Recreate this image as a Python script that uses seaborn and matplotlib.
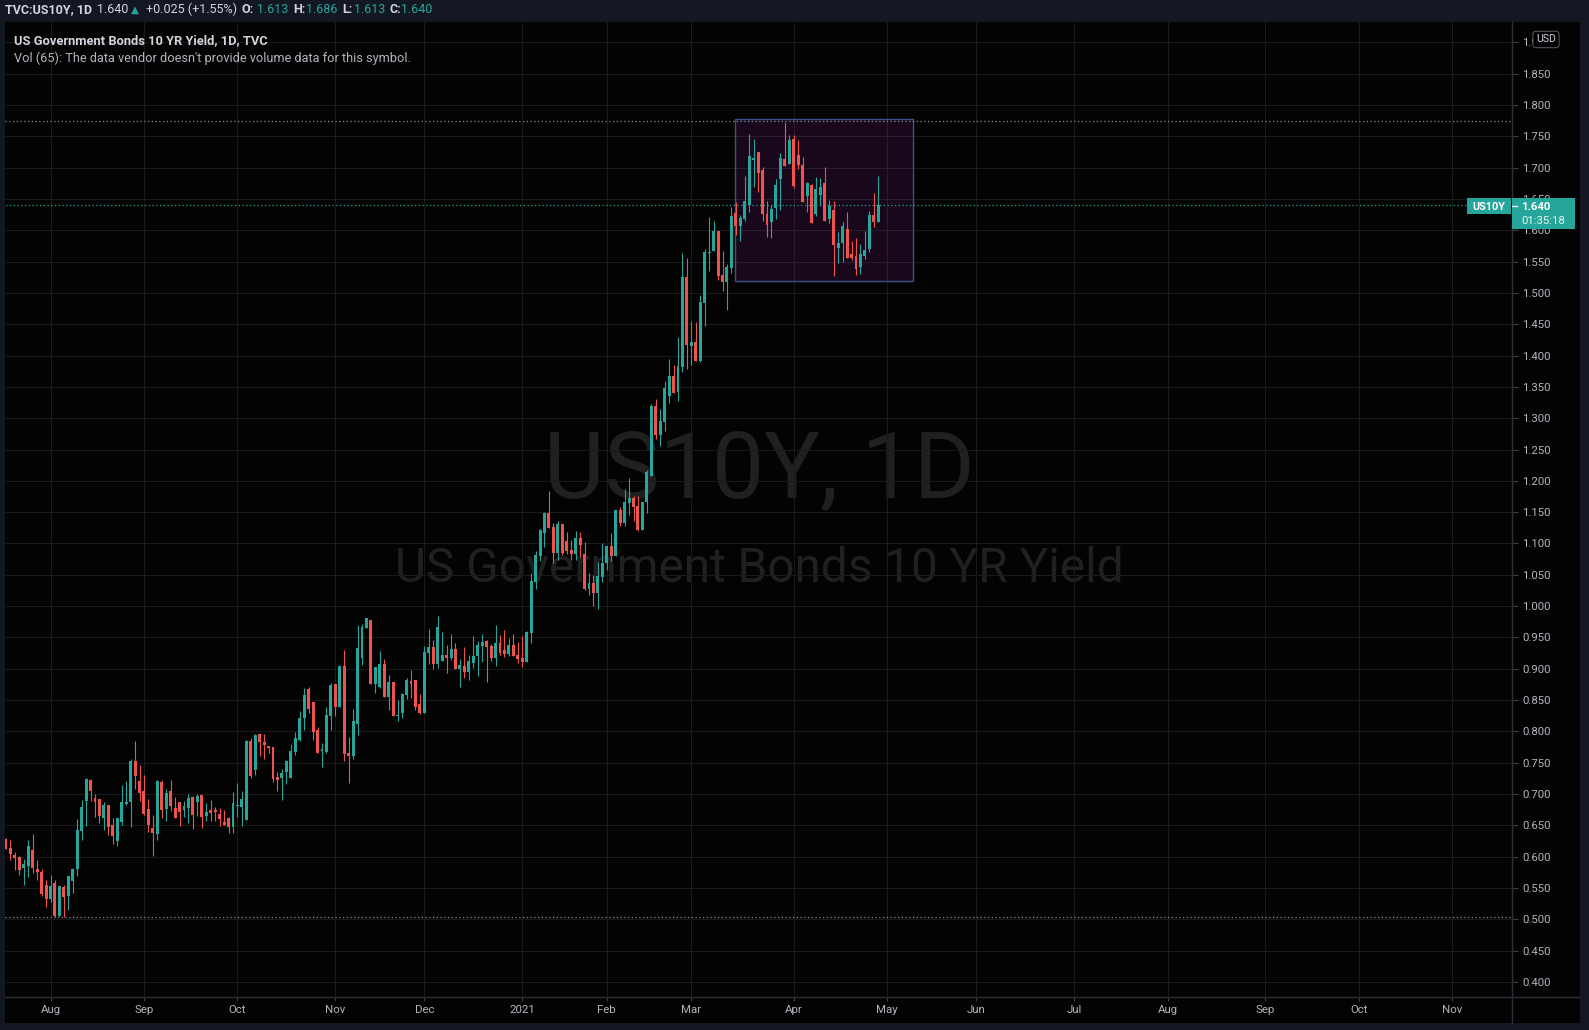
import numpy as np
import pandas as pd
import matplotlib
matplotlib.use("Agg")
import matplotlib.pyplot as plt
import seaborn as sns
from matplotlib.patches import Rectangle
from matplotlib.lines import Line2D

# Daily candles TVC:US10Y, 20 Jul 2020 -> 29 Apr 2021
opens = [
    0.628, 0.614, 0.603, 0.600, 0.582, 0.585, 0.611, 0.580, 0.576, 0.555,
    0.532, 0.558, 0.505, 0.552, 0.537, 0.561, 0.580, 0.641, 0.689, 0.722,
    0.694, 0.692, 0.662, 0.683, 0.651, 0.625, 0.655, 0.684, 0.687, 0.753,
    0.721, 0.705, 0.676, 0.646, 0.636, 0.719, 0.676, 0.705, 0.678, 0.687,
    0.674, 0.678, 0.695, 0.687, 0.698, 0.665, 0.675, 0.675, 0.668, 0.655,
    0.662, 0.647, 0.681, 0.679, 0.659, 0.785, 0.738, 0.796, 0.783, 0.777,
    0.775, 0.727, 0.726, 0.735, 0.726, 0.767, 0.786, 0.821, 0.868, 0.847,
    0.802, 0.769, 0.767, 0.825, 0.876, 0.839, 0.904, 0.765, 0.761, 0.812,
    0.917, 0.965, 0.978, 0.876, 0.871, 0.908, 0.855, 0.879, 0.825, 0.829,
    0.858, 0.880, 0.882, 0.844, 0.829, 0.925, 0.935, 0.908, 0.912, 0.922,
    0.917, 0.931, 0.900, 0.904, 0.895, 0.909, 0.920, 0.936, 0.944, 0.936,
    0.917, 0.941, 0.930, 0.923, 0.938, 0.922, 0.917, 0.911, 0.957, 1.038,
    1.080, 1.117, 1.149, 1.126, 1.085, 1.131, 1.104, 1.090, 1.083, 1.109,
    1.083, 1.027, 1.037, 1.021, 1.046, 1.069, 1.096, 1.080, 1.153, 1.133,
    1.165, 1.172, 1.160, 1.122, 1.166, 1.207, 1.320, 1.273, 1.294, 1.336,
    1.367, 1.342, 1.382, 1.525, 1.415, 1.422, 1.391, 1.484, 1.564, 1.567,
    1.599, 1.529, 1.517, 1.540, 1.628, 1.607, 1.618, 1.640, 1.712, 1.725,
    1.696, 1.626, 1.613, 1.636, 1.682, 1.714, 1.706, 1.746, 1.720, 1.704,
    1.655, 1.672, 1.626, 1.656, 1.675, 1.618, 1.632, 1.572, 1.580, 1.602,
    1.562, 1.559, 1.541, 1.559, 1.570, 1.624, 1.613,
]
highs = [
    0.630, 0.627, 0.607, 0.601, 0.596, 0.626, 0.636, 0.595, 0.580, 0.563,
    0.571, 0.563, 0.553, 0.555, 0.569, 0.582, 0.660, 0.690, 0.726, 0.724,
    0.700, 0.692, 0.687, 0.683, 0.662, 0.662, 0.714, 0.721, 0.756, 0.785,
    0.746, 0.730, 0.692, 0.667, 0.722, 0.722, 0.708, 0.722, 0.695, 0.687,
    0.689, 0.700, 0.697, 0.700, 0.698, 0.686, 0.691, 0.679, 0.678, 0.675,
    0.663, 0.703, 0.718, 0.705, 0.786, 0.790, 0.796, 0.796, 0.796, 0.777,
    0.775, 0.735, 0.740, 0.754, 0.780, 0.799, 0.832, 0.869, 0.871, 0.847,
    0.807, 0.781, 0.839, 0.877, 0.876, 0.904, 0.930, 0.791, 0.836, 0.970,
    0.971, 0.981, 0.978, 0.903, 0.928, 0.916, 0.890, 0.879, 0.850, 0.861,
    0.885, 0.898, 0.882, 0.860, 0.936, 0.963, 0.946, 0.984, 0.959, 0.938,
    0.955, 0.941, 0.916, 0.935, 0.922, 0.952, 0.944, 0.955, 0.946, 0.939,
    0.970, 0.954, 0.962, 0.949, 0.955, 0.943, 0.952, 0.960, 1.053, 1.088,
    1.123, 1.150, 1.184, 1.133, 1.136, 1.131, 1.118, 1.106, 1.120, 1.118,
    1.102, 1.053, 1.050, 1.070, 1.101, 1.096, 1.117, 1.153, 1.158, 1.187,
    1.205, 1.176, 1.176, 1.167, 1.217, 1.323, 1.330, 1.315, 1.359, 1.394,
    1.385, 1.430, 1.563, 1.556, 1.455, 1.454, 1.497, 1.570, 1.621, 1.615,
    1.599, 1.567, 1.546, 1.637, 1.645, 1.624, 1.687, 1.754, 1.746, 1.725,
    1.701, 1.647, 1.640, 1.682, 1.723, 1.773, 1.752, 1.752, 1.744, 1.717,
    1.677, 1.674, 1.685, 1.683, 1.701, 1.648, 1.647, 1.597, 1.613, 1.629,
    1.583, 1.588, 1.578, 1.599, 1.631, 1.659, 1.686,
]
lows = [
    0.612, 0.594, 0.579, 0.571, 0.555, 0.568, 0.574, 0.563, 0.537, 0.520,
    0.528, 0.503, 0.505, 0.503, 0.515, 0.542, 0.569, 0.626, 0.649, 0.689,
    0.663, 0.654, 0.643, 0.635, 0.620, 0.617, 0.651, 0.683, 0.647, 0.708,
    0.689, 0.667, 0.639, 0.601, 0.626, 0.662, 0.657, 0.673, 0.662, 0.649,
    0.663, 0.654, 0.644, 0.665, 0.646, 0.657, 0.657, 0.657, 0.649, 0.651,
    0.638, 0.638, 0.663, 0.649, 0.659, 0.726, 0.730, 0.760, 0.756, 0.765,
    0.720, 0.705, 0.690, 0.716, 0.726, 0.762, 0.785, 0.802, 0.829, 0.786,
    0.765, 0.743, 0.765, 0.802, 0.825, 0.839, 0.753, 0.718, 0.756, 0.794,
    0.906, 0.965, 0.876, 0.861, 0.869, 0.855, 0.834, 0.825, 0.817, 0.821,
    0.852, 0.853, 0.834, 0.828, 0.829, 0.908, 0.900, 0.901, 0.912, 0.893,
    0.914, 0.900, 0.871, 0.885, 0.882, 0.901, 0.888, 0.911, 0.879, 0.912,
    0.904, 0.922, 0.919, 0.920, 0.920, 0.909, 0.903, 0.911, 0.941, 1.027,
    1.072, 1.094, 1.125, 1.069, 1.074, 1.082, 1.083, 1.074, 1.074, 1.078,
    1.026, 1.018, 1.000, 0.995, 1.038, 1.058, 1.072, 1.080, 1.128, 1.128,
    1.145, 1.136, 1.120, 1.122, 1.148, 1.207, 1.267, 1.255, 1.280, 1.325,
    1.340, 1.327, 1.374, 1.378, 1.385, 1.391, 1.390, 1.447, 1.535, 1.567,
    1.521, 1.503, 1.473, 1.532, 1.592, 1.583, 1.615, 1.629, 1.669, 1.661,
    1.615, 1.589, 1.588, 1.618, 1.632, 1.703, 1.706, 1.667, 1.698, 1.645,
    1.629, 1.612, 1.623, 1.640, 1.615, 1.612, 1.527, 1.548, 1.549, 1.556,
    1.553, 1.529, 1.530, 1.554, 1.565, 1.605, 1.613,
]
closes = [
    0.613, 0.604, 0.598, 0.579, 0.589, 0.617, 0.582, 0.576, 0.541, 0.532,
    0.553, 0.505, 0.553, 0.535, 0.569, 0.580, 0.643, 0.679, 0.724, 0.705,
    0.687, 0.665, 0.683, 0.647, 0.633, 0.662, 0.687, 0.687, 0.753, 0.729,
    0.702, 0.668, 0.651, 0.638, 0.721, 0.675, 0.702, 0.681, 0.662, 0.671,
    0.681, 0.694, 0.667, 0.697, 0.663, 0.671, 0.670, 0.671, 0.660, 0.651,
    0.647, 0.686, 0.683, 0.692, 0.785, 0.729, 0.794, 0.783, 0.778, 0.773,
    0.724, 0.722, 0.734, 0.752, 0.769, 0.790, 0.821, 0.858, 0.836, 0.799,
    0.765, 0.772, 0.826, 0.874, 0.839, 0.904, 0.764, 0.761, 0.817, 0.933,
    0.967, 0.981, 0.876, 0.903, 0.908, 0.855, 0.879, 0.825, 0.826, 0.860,
    0.882, 0.876, 0.839, 0.829, 0.927, 0.935, 0.908, 0.967, 0.922, 0.917,
    0.931, 0.900, 0.906, 0.895, 0.912, 0.920, 0.938, 0.943, 0.935, 0.917,
    0.941, 0.925, 0.923, 0.938, 0.920, 0.916, 0.911, 0.959, 1.040, 1.082,
    1.121, 1.149, 1.125, 1.085, 1.131, 1.085, 1.088, 1.083, 1.109, 1.098,
    1.027, 1.037, 1.021, 1.048, 1.069, 1.096, 1.080, 1.153, 1.133, 1.166,
    1.172, 1.159, 1.122, 1.167, 1.214, 1.320, 1.273, 1.295, 1.348, 1.367,
    1.341, 1.383, 1.525, 1.417, 1.422, 1.391, 1.485, 1.565, 1.565, 1.599,
    1.527, 1.517, 1.541, 1.623, 1.607, 1.620, 1.647, 1.719, 1.715, 1.691,
    1.626, 1.608, 1.634, 1.672, 1.715, 1.703, 1.744, 1.671, 1.704, 1.645,
    1.675, 1.612, 1.666, 1.669, 1.615, 1.639, 1.577, 1.580, 1.607, 1.556,
    1.556, 1.538, 1.562, 1.568, 1.624, 1.613, 1.640,
]

# time scale: bar index of the first bar of each month (future months extrapolated)
month_pos = [10, 31, 52, 74, 94, 116, 135, 154, 177, 198, 218, 240, 261, 283, 304, 325]
month_labels = ["Aug", "Sep", "Oct", "Nov", "Dec", "2021", "Feb", "Mar", "Apr",
                "May", "Jun", "Jul", "Aug", "Sep", "Oct", "Nov"]
price_ticks = [0.40, 0.45, 0.50, 0.55, 0.60, 0.65, 0.70, 0.75, 0.80, 0.85, 0.90,
               0.95, 1.00, 1.05, 1.10, 1.15, 1.20, 1.25, 1.30, 1.35, 1.40, 1.45,
               1.50, 1.55, 1.60, 1.65, 1.70, 1.75, 1.80, 1.85, 1.90]

hline_levels = [1.775, 0.503]      # dotted horizontal lines
last_price = 1.640
box_x = [163.9, 203.9]             # drawn rectangle (bar index)
box_y = [1.519, 1.777]

GREEN = "#26a69a"
RED = "#ef5350"
FRAME = "#131722"
TXT = "#d1d4dc"
AXTXT = "#b2b5be"
GRID = "#1a1a1a"

W, H = 1589, 1030

sns.set_theme(style="dark", rc={"axes.facecolor": "black", "figure.facecolor": FRAME})
plt.rcParams["font.family"] = ["Roboto", "DejaVu Sans"]


def fx(x):
    return x / W


def fy(y):
    return 1 - y / H


fig = plt.figure(figsize=(W / 100, H / 100), dpi=100)
fig.patch.set_facecolor(FRAME)

# black chart area incl. price / time scales
fig.patches.append(Rectangle((fx(5), fy(1023)), fx(1580 - 5), (1023 - 22) / H,
                             transform=fig.transFigure, facecolor="#030303",
                             edgecolor="none", zorder=-5))

ax = fig.add_axes([fx(5), fy(997), fx(1512 - 5), (997 - 22) / H])
ax.set_facecolor("#030303")

df = pd.DataFrame({"open": opens, "high": highs, "low": lows, "close": closes})
df["x"] = np.arange(len(df))
up = df["close"] >= df["open"]
colors = np.where(up, GREEN, RED)

# watermark
ax.text(fx(759), fy(498.6), "US10Y, 1D", transform=fig.transFigure, ha="center",
        va="baseline", fontsize=67, color="#202020", zorder=0.2)
ax.text(fx(759), fy(582), "US Government Bonds 10 YR Yield", transform=fig.transFigure,
        ha="center", va="baseline", fontsize=34.4, color="#202020", zorder=0.2)

# rectangle drawing
ax.add_patch(Rectangle((box_x[0], box_y[0]), box_x[1] - box_x[0], box_y[1] - box_y[0],
                       facecolor=(0.61, 0.15, 0.69, 0.15), edgecolor="#3b5289",
                       lw=1, zorder=1.5))

# candles
ax.vlines(df["x"], df["low"], df["high"], colors=colors, lw=0.8, zorder=3)
bottom = df[["open", "close"]].min(axis=1)
height = (df["close"] - df["open"]).abs().clip(lower=0.0016)
ax.bar(df["x"], height, bottom=bottom, width=0.66, color=colors, lw=0, zorder=4)

for lvl in hline_levels:
    ax.axhline(lvl, color="#8a8d96", lw=0.9, ls=(0, (1, 2)), zorder=2)
ax.plot([-1, 329.5], [last_price, last_price], color=GREEN, lw=0.9, ls=(0, (1, 2)), zorder=2)

ax.set_xlim(-0.225, 338.4)
ax.set_ylim(0.376, 1.9325)
ax.set_xticks(month_pos)
ax.set_xticklabels(month_labels)
ax.set_yticks(price_ticks)
ax.set_yticklabels([f"{t:.3f}" for t in price_ticks])
ax.set_axisbelow(True)
ax.grid(True, color=GRID, lw=0.75, zorder=0.5)
ax.yaxis.tick_right()
ax.tick_params(axis="y", right=True, left=False, length=4, width=0.8, color="#3a3d45",
               labelcolor=AXTXT, labelsize=8.2, pad=3.5)
ax.tick_params(axis="x", bottom=True, length=3, width=0.8, color="#3a3d45",
               labelcolor=AXTXT, labelsize=8.2, pad=3)
for sp in ax.spines.values():
    sp.set_visible(False)

# scale borders
fig.add_artist(Line2D([fx(1512), fx(1512)], [fy(22), fy(1023)], color="#2e3038", lw=1))
fig.add_artist(Line2D([fx(5), fx(1580)], [fy(997), fy(997)], color="#2e3038", lw=1))

# last price labels
fig.patches.append(Rectangle((fx(1467), fy(214.3)), fx(1510.7 - 1467), 16 / H,
                             transform=fig.transFigure, facecolor=GREEN, edgecolor="none", zorder=5))
fig.text(fx(1489), fy(206.5), "US10Y", ha="center", va="center", fontsize=7.8,
         fontweight="bold", color="white", zorder=6)
fig.patches.append(Rectangle((fx(1511.7), fy(229)), fx(1575 - 1511.7), 31 / H,
                             transform=fig.transFigure, facecolor=GREEN, edgecolor="none", zorder=5))
fig.add_artist(Line2D([fx(1512), fx(1517)], [fy(206), fy(206)], color="white", lw=1, zorder=6))
fig.text(fx(1521.5), fy(206.5), "1.640", ha="left", va="center", fontsize=8.2,
         fontweight="bold", color="white", zorder=6)
fig.text(fx(1521.5), fy(220.5), "01:35:18", ha="left", va="center", fontsize=8.2,
         color="#e8f4f2", zorder=6)

# currency tag
fig.text(fx(1546), fy(39.5), "USD", ha="center", va="center", fontsize=7.6, color=TXT,
         zorder=6, bbox=dict(boxstyle="round,pad=0.3,rounding_size=0.3", fc="black",
                             ec="#50535e", lw=0.8))

# header row
hy = fy(9.5)
hs = 9.0
fig.text(fx(5), hy, "TVC:US10Y, 1D", ha="left", va="center", fontsize=hs,
         fontweight="bold", color=TXT)
fig.text(fx(97), hy, "1.640", ha="left", va="center", fontsize=hs, color=TXT)
fig.text(fx(131), hy, "▲", ha="left", va="center", fontsize=7.5, color=GREEN)
fig.text(fx(146), hy, "+0.025 (+1.55%)", ha="left", va="center", fontsize=hs, color=TXT)
for xl, lab, xv, val in [(242, "O:", 257, "1.613"), (293, "H:", 306, "1.686"),
                         (342, "L:", 354, "1.613"), (390, "C:", 401, "1.640")]:
    fig.text(fx(xl), hy, lab, ha="left", va="center", fontsize=hs, fontweight="bold", color=TXT)
    fig.text(fx(xv), hy, val, ha="left", va="center", fontsize=hs, color=GREEN)

# legend
fig.text(fx(14), fy(40.5), "US Government Bonds 10 YR Yield, 1D, TVC", ha="left",
         va="center", fontsize=9.3, fontweight="semibold", color=TXT)
fig.text(fx(14), fy(58), "Vol (65): The data vendor doesn't provide volume data for this symbol.",
         ha="left", va="center", fontsize=9.2, color=AXTXT)

fig.savefig("out.png", dpi=100, facecolor=fig.get_facecolor())
